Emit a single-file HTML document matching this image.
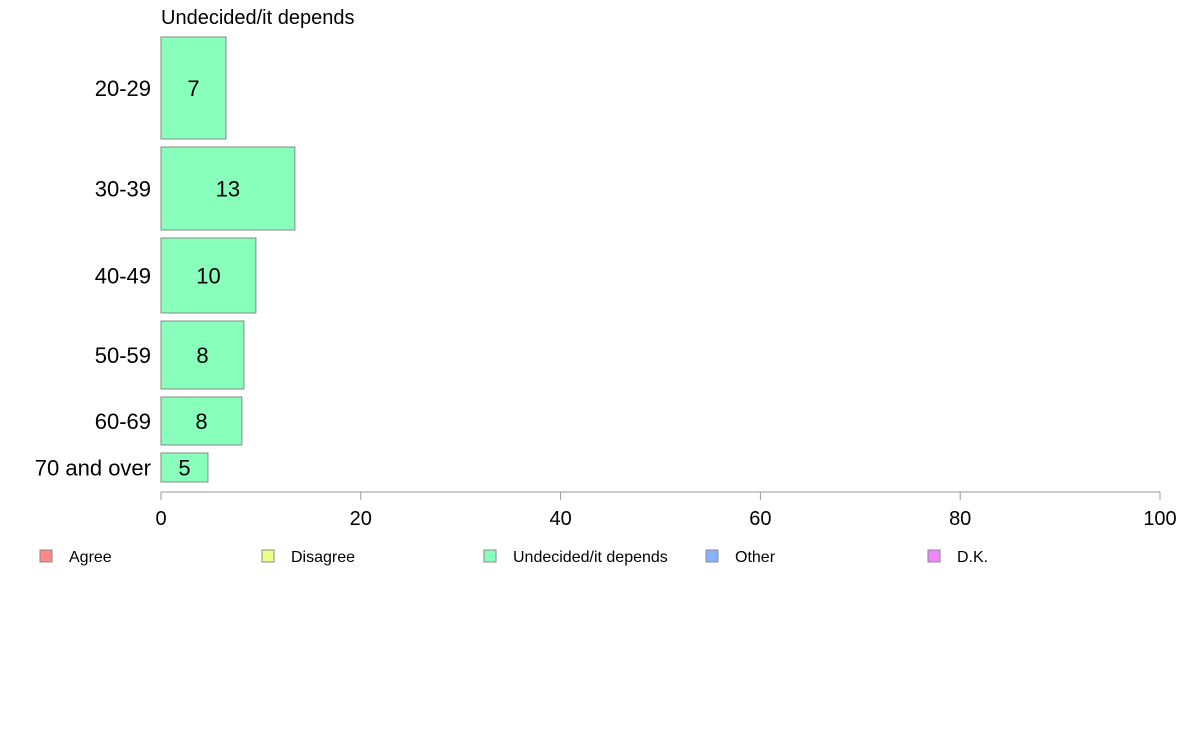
<!DOCTYPE html>
<html><head><meta charset="utf-8"><style>
body{margin:0;background:#fff;}
svg{font-family:"Liberation Sans",sans-serif;display:block;}
</style></head><body>
<svg id="chart" width="1188" height="736">
<text x="161" y="24" font-size="20">Undecided/it depends</text>
<g id="bars"></g>
<g id="axis"></g>
<g id="legend"></g>
</svg>
<script>
const categories = ["20-29","30-39","40-49","50-59","60-69","70 and over"];
const values = [6.5,13.4,9.5,8.3,8.1,4.7];
const labels = ["7","13","10","8","8","5"];
const weights = [102,83,75,68,48,29];
const ticks = [0,20,40,60,80,100];
const legendNames = ["Agree","Disagree","Undecided/it depends","Other","D.K."];
const legendColors = ["#ff8888","#eeff88","#88ffbb","#88b4ff","#ee88ff"];

(function(){
const NS="http://www.w3.org/2000/svg";
const x0=161,x1=1160,topY=37,gap=8;
const xs=v=>x0+(x1-x0)*v/100;
function mk(tag,attrs,parent){const e=document.createElementNS(NS,tag);for(const k in attrs)e.setAttribute(k,attrs[k]);parent.appendChild(e);return e;}
const bars=document.getElementById('bars');
let yy=topY;
categories.forEach((c,i)=>{
  const h=weights[i];
  const r=mk('rect',{x:x0,y:yy,width:xs(values[i])-x0,height:h,fill:"#88ffbb",stroke:"#888","stroke-width":1},bars);
  
  
  const t=mk('text',{x:(x0+xs(values[i]))/2,y:yy+h/2+8,"font-size":22,"text-anchor":"middle"},bars);
  t.textContent=labels[i];
  
  
  const l=mk('text',{x:151,y:yy+h/2+8,"font-size":22,"text-anchor":"end"},bars);
  l.textContent=c;
  
  
  yy+=h+gap;
});
const axis=document.getElementById('axis');
const al=mk('line',{x1:x0,x2:x1,y1:492,y2:492,stroke:"#999"},axis);


ticks.forEach(t=>{
  const tl=mk('line',{x1:xs(t),x2:xs(t),y1:492,y2:500,stroke:"#999"},axis);
  
  
  const tx=mk('text',{x:xs(t),y:525,"font-size":20,"text-anchor":"middle"},axis);
  tx.textContent=t;
  
  
});
const lg=document.getElementById('legend');
legendNames.forEach((n,i)=>{
  const lx=40+222*i;
  const g=mk('g',{},lg);
  
  
  mk('rect',{x:lx,y:550,width:12,height:12,fill:legendColors[i],stroke:"#888"},g);
  const t=mk('text',{x:lx+29,y:562,"font-size":16},g);
  t.textContent=n;
});
})();
</script>
</body></html>
